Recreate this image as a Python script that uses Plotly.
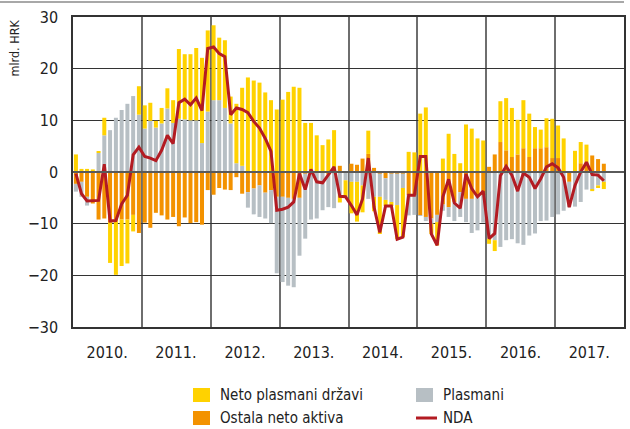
import pandas as pd
import plotly.graph_objects as go

# Monthly observations, January 2010 onwards (mlrd. HRK)
months = pd.date_range("2010-01-01", periods=93, freq="MS")

neto_plasmani_drzavi = [
    3.4, 0.6, 0.6, 0.5, 0.2, 3.4, -7.9, -10.7, -9.0, -8.5, -3.2, 5.5,
    4.5, 3.5, 1.3, 3.0, 3.9, 4.4, 13.5, 12.6, 12.8, 14.0, 16.5, 15.7,
    14.5, 12.1, 13.1, 5.2, 11.5, 15.1, 18.3, 17.7, 17.3, 15.4, 13.9, 12.1,
    14.0, 15.5, 16.5, 16.3, 9.5, 9.0, 7.1, 5.2, 6.3, 8.1, -1.4, -3.2,
    -6.1, -7.7, -5.2, 4.5, -2.8, -7.2, -1.2, -0.8, -6.6, -9.5, 3.9, 3.8,
    11.3, 12.5, -2.0, -4.5, 2.6, 7.4, 3.5, 1.7, 9.2, 8.4, 6.5, 6.1,
    -1.0, -2.1, 7.9, 10.1, 9.5, 6.7, 9.3, 8.4, 4.1, 3.6, 5.6, 7.6,
    6.3, 6.5, 0.0, 4.1, 4.1, 3.6, -0.3, -0.5, -1.4,
]

ostala_neto_aktiva = [
    -2.3, -1.9, -4.8, -6.1, -9.2, -9.0, -9.7, -9.2, -9.2, -9.2, -8.3, -11.8,
    -9.8, -10.8, -7.9, -8.4, -9.2, -8.7, -10.5, -8.8, -9.9, -9.7, -10.2, -3.5,
    -4.4, -3.1, -3.4, -3.5, -1.0, -4.2, -3.9, -3.2, -2.6, -4.0, -3.5, -4.8,
    -4.8, -5.0, -5.2, -5.0, -0.3, 0.5, 0.0, 0.0, -0.5, 0.0, 1.2, 0.0,
    1.6, 1.4, 2.6, 3.5, 0.8, -0.3, -1.2, -0.3, -0.3, -0.3, -4.5, -4.5,
    -8.4, -8.7, -9.0, -8.3, -6.3, -6.8, -5.8, -3.9, -5.2, -5.2, -4.6, -4.5,
    1.0, 3.4, 5.8, 4.2, 2.9, 3.4, 4.6, 2.9, 4.6, 4.6, 4.8, 2.7,
    2.7, 0.0, -1.9, 0.0, 1.7, 1.7, 3.2, 2.5, 1.6,
]

plasmani = [
    -1.5, -2.9, -1.7, 0.0, 3.7, 7.1, 8.1, 10.5, 12.0, 13.2, 14.7, 11.1,
    8.4, 9.9, 8.6, 9.4, 12.3, 9.5, 10.3, 10.2, 10.0, 10.0, 5.6, 11.7,
    13.9, 13.9, 12.4, 9.4, 1.7, 1.2, -3.0, -5.0, -6.1, -5.0, -6.4, -14.8,
    -16.5, -17.0, -17.1, -11.2, -12.6, -9.2, -9.0, -7.4, -6.3, -7.0, -4.5, -1.6,
    -1.9, -1.9, -2.6, -5.2, -4.8, -4.5, -4.2, -5.5, -6.1, -2.8, -3.9, -3.8,
    -0.1, -0.8, -1.0, -1.4, -1.2, -1.9, -3.7, -4.8, -4.5, -6.6, -6.7, -5.3,
    -12.9, -13.2, -14.5, -13.2, -13.0, -13.8, -14.1, -12.3, -11.9, -9.5, -9.4, -8.7,
    -8.2, -7.5, -4.9, -6.7, -5.8, -3.4, -3.4, -2.6, -1.9,
]

nda = [
    -0.3, -4.2, -5.6, -5.6, -5.5, 1.5, -9.5, -9.4, -6.2, -4.5, 3.3, 4.8,
    3.0, 2.7, 2.2, 4.2, 7.1, 5.5, 13.4, 14.1, 13.0, 14.3, 11.9, 23.9,
    24.2, 22.9, 22.3, 11.1, 12.4, 12.1, 11.5, 9.8, 8.5, 6.5, 4.0, -7.4,
    -7.2, -6.8, -5.8, -0.3, -3.4, 0.5, -1.9, -2.1, -0.5, 1.0, -4.7, -4.8,
    -6.5, -8.3, -5.2, 2.7, -6.8, -11.7, -6.6, -6.6, -13.0, -12.6, -4.5, -4.5,
    3.0, 3.0, -12.0, -14.2, -4.8, -1.4, -6.0, -7.0, -0.4, -3.2, -4.8, -3.7,
    -12.9, -11.9, -0.7, 1.1, -0.6, -3.7, -0.2, -1.0, -3.2, -1.3, 1.0, 1.6,
    0.8, -1.0, -6.8, -2.6, 0.0, 1.9, -0.5, -0.6, -1.7,
]

years = list(range(2010, 2018))
year_labels = [f"{y}." for y in years]
year_mid = [f"{y}-07-01" for y in years]
year_start = [f"{y}-01-01" for y in years[1:]]

YELLOW = "#FFD200"
ORANGE = "#F39200"
GRAY = "#B7BFC4"
RED = "#B31B22"
FONT = "Liberation Sans Narrow, DejaVu Sans Condensed, Arial Narrow, sans-serif"

# page geometry of the plotting area (pixels)
W, H = 630, 429
L, R, T, B = 73, 6, 17, 102
PW, PH = W - L - R, H - T - B


def px_x(px):
    return (px - L) / PW


def px_y(py):
    return (H - B - py) / PH


fig = go.Figure()

bar_common = dict(xperiod="M1", xperiodalignment="middle", marker_line_width=0)

# stacking order outward from zero: other net assets, loans, net claims on government
fig.add_trace(go.Bar(x=months, y=ostala_neto_aktiva, name="Ostala neto aktiva",
                     marker_color=ORANGE, **bar_common))
fig.add_trace(go.Bar(x=months, y=plasmani, name="Plasmani",
                     marker_color=GRAY, **bar_common))
fig.add_trace(go.Bar(x=months, y=neto_plasmani_drzavi, name="Neto plasmani državi",
                     marker_color=YELLOW, **bar_common))
fig.add_trace(go.Scatter(x=months, y=nda, name="NDA", mode="lines",
                         line=dict(color=RED, width=3),
                         xperiod="M1", xperiodalignment="middle"))

# key below the chart: two columns, two rows
key = [
    ("Neto plasmani državi", YELLOW, "box", 193, 395),
    ("Plasmani", GRAY, "box", 416, 395),
    ("Ostala neto aktiva", ORANGE, "box", 193, 418),
    ("NDA", RED, "line", 416, 418),
]
shapes = [
    # zero line drawn over the bars
    dict(type="line", xref="paper", yref="y", x0=0, x1=1, y0=0, y1=0,
         line=dict(color="#5A5A5A", width=2), layer="above"),
    # thin rule across the top of the figure
    dict(type="line", xref="paper", yref="paper", x0=px_x(0), x1=1,
         y0=px_y(2), y1=px_y(2), line=dict(color="#A8A8A8", width=2)),
]
annotations = [
    dict(text="mlrd. HRK", textangle=-90, xref="paper", yref="paper",
         x=px_x(14), y=px_y(18), xanchor="center", yanchor="top",
         showarrow=False, font=dict(family=FONT, size=12.5, color="#222")),
]
for label, color, kind, kx, ky in key:
    if kind == "box":
        shapes.append(dict(type="rect", xref="paper", yref="paper",
                           x0=px_x(kx), x1=px_x(kx + 17),
                           y0=px_y(ky + 7), y1=px_y(ky - 7),
                           fillcolor=color, line=dict(width=0)))
    else:
        shapes.append(dict(type="line", xref="paper", yref="paper",
                           x0=px_x(kx), x1=px_x(kx + 21),
                           y0=px_y(ky), y1=px_y(ky),
                           line=dict(color=color, width=3)))
    annotations.append(dict(text=label, xref="paper", yref="paper",
                            x=px_x(kx + 25), y=px_y(ky),
                            xanchor="left", yanchor="middle", showarrow=False,
                            font=dict(family=FONT, size=15, color="#222")))

fig.update_layout(
    width=W, height=H,
    margin=dict(l=L, r=R, t=T, b=B),
    paper_bgcolor="white", plot_bgcolor="white",
    barmode="relative", bargap=0.28,
    showlegend=False,
    font=dict(family=FONT, size=16, color="#222"),
    xaxis=dict(
        type="date",
        range=["2010-01-01", "2018-01-01"],
        tickmode="array", tickvals=year_mid, ticktext=year_labels,
        ticks="", showgrid=False, ticklabelstandoff=10, automargin=False,
        showline=True, linecolor="#333", linewidth=1.5, mirror=True,
        minor=dict(tickmode="array", tickvals=year_start, showgrid=True,
                   gridcolor="#6E6E6E", gridwidth=2, ticks=""),
        tickfont=dict(family=FONT, size=16, color="#222"),
    ),
    yaxis=dict(
        range=[-30, 30], dtick=10, tick0=0,
        showgrid=True, gridcolor="#333", gridwidth=1,
        zeroline=False, automargin=False,
        ticks="", ticklabelstandoff=10,
        showline=True, linecolor="#333", linewidth=1.5, mirror=True,
        tickfont=dict(family=FONT, size=16, color="#222"),
    ),
    shapes=shapes,
    annotations=annotations,
)

fig.write_html("out.html")
